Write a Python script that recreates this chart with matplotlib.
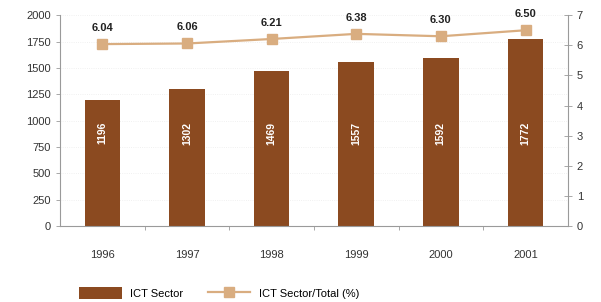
import matplotlib.pyplot as plt
from matplotlib.ticker import MultipleLocator, FixedLocator

plt.rcParams['font.family'] = ['Liberation Sans', 'DejaVu Sans']

# data
years = ["1996", "1997", "1998", "1999", "2000", "2001"]
ict_sector = [1196, 1302, 1469, 1557, 1592, 1772]
ict_share = [6.04, 6.06, 6.21, 6.38, 6.30, 6.50]

bar_color = "#8b4a20"
line_color = "#d9ad80"
axis_color = "#9a9a9a"

fig = plt.figure(figsize=(6.01, 3.02), dpi=100)
ax = fig.add_axes([0.0998, 0.2517, 0.845, 0.698])
ax2 = ax.twinx()

x = list(range(len(years)))
ax.bar(x, ict_sector, width=0.42, color=bar_color, label="ICT Sector", zorder=2)
for xi, v in zip(x, ict_sector):
    ax.text(xi, 880, str(v), rotation=90, ha="center", va="center",
            color="white", fontsize=7.5, fontweight="bold", zorder=3)

ax.set_xlim(-0.5, 5.5)
ax.set_ylim(0, 2000)
ax.yaxis.set_major_locator(MultipleLocator(250))
ax.set_xticks(x)
ax.set_xticklabels(years)
ax.xaxis.set_minor_locator(FixedLocator([i + 0.5 for i in x[:-1]]))
ax.grid(axis="y", color="#ececec", linewidth=0.6, linestyle=":", zorder=0)

ax2.plot(x, ict_share, color=line_color, marker="s", markersize=6.5,
         linewidth=1.6, label="ICT Sector/Total (%)", zorder=4)
for xi, v in zip(x, ict_share):
    ax2.annotate(f"{v:.2f}", (xi, v), xytext=(0, 8), textcoords="offset points",
                 ha="center", va="bottom", fontsize=8, fontweight="bold", color="#222222")
ax2.set_ylim(0, 7)
ax2.yaxis.set_major_locator(MultipleLocator(1))

for a in (ax, ax2):
    a.spines["top"].set_visible(False)
    for s in ("left", "right", "bottom"):
        a.spines[s].set_color(axis_color)
        a.spines[s].set_linewidth(0.8)
    a.tick_params(colors="#333333", labelsize=8, length=3, width=0.6)
    a.tick_params(axis="y", color=axis_color)
ax.spines["right"].set_visible(False)
ax2.spines["left"].set_visible(False)
ax2.spines["bottom"].set_visible(False)
ax.tick_params(axis="x", which="major", length=0, pad=17)
ax.tick_params(axis="x", which="minor", length=3, color=axis_color, width=0.6)
ax2.tick_params(axis="y", direction="inout", length=6)

h1, l1 = ax.get_legend_handles_labels()
h2, l2 = ax2.get_legend_handles_labels()
fig.legend(h1 + h2, l1 + l2, loc="center", bbox_to_anchor=(0.365, 0.03), ncol=2,
           frameon=False, fontsize=8, handlelength=3.8, handleheight=1.4,
           columnspacing=2.2)

fig.savefig("out.png", dpi=100)
